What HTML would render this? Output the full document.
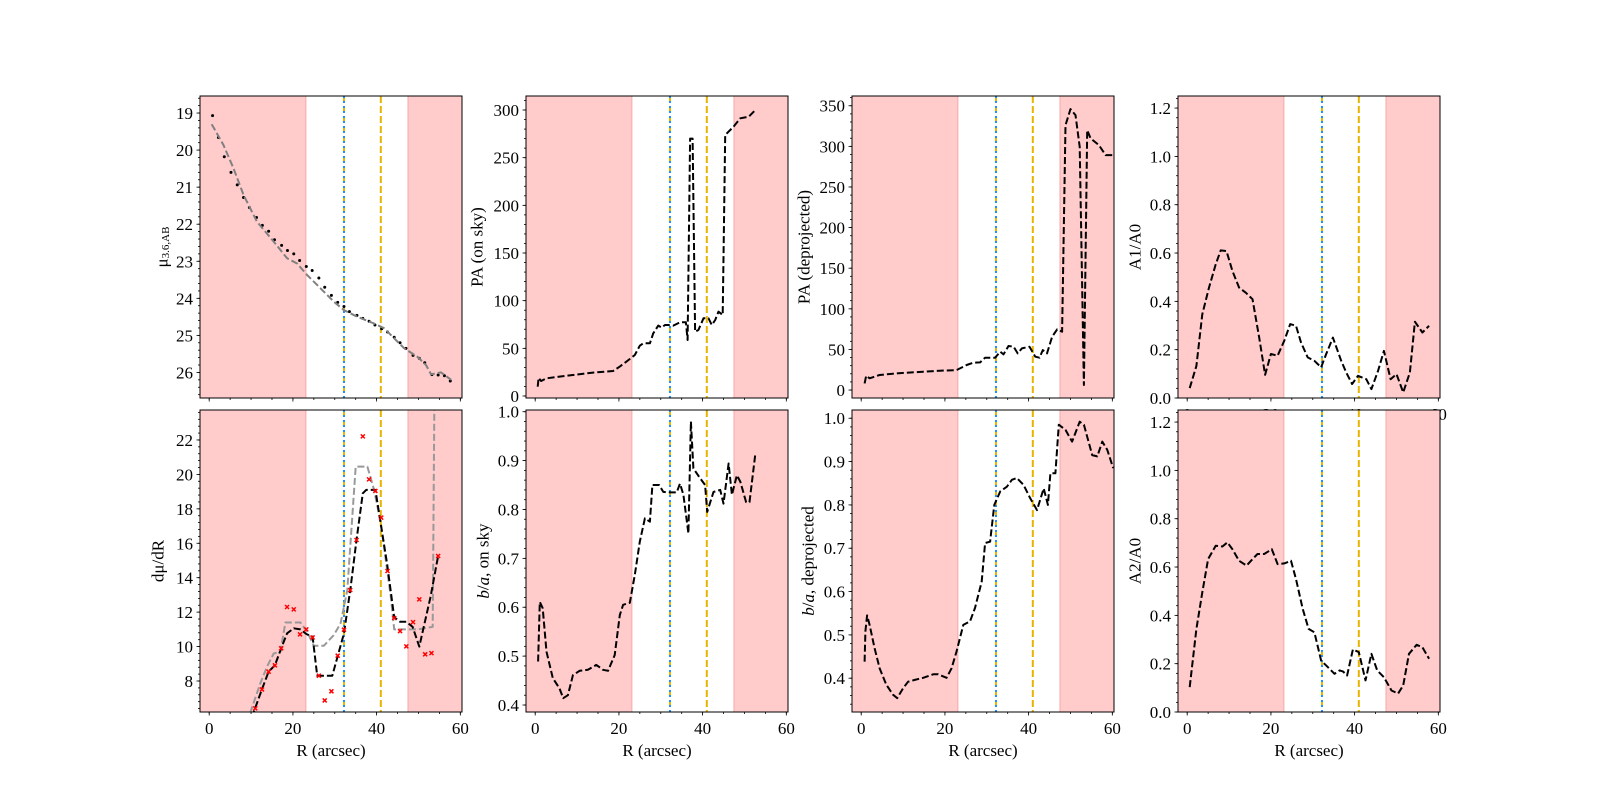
<!DOCTYPE html>
<html><head><meta charset="utf-8"><style>
html,body{margin:0;padding:0;background:#fff;}
svg{display:block;font-family:"Liberation Serif","DejaVu Serif",serif;}
</style></head><body>
<svg id="fig" width="1600" height="800" viewBox="0 0 1600 800" xmlns="http://www.w3.org/2000/svg"></svg>
<script>
// ---------- data ----------
const muDotsR=[0.8,2.2,3.6,5.2,6.7,8.2,9.6,11.3,12.7,14.2,15.6,17.3,18.7,20.2,21.6,23.2,24.6,26.2,27.6,29.2,30.7,32.2,33.5,35.3,36.7,38.2,39.6,41.2,42.6,44.2,45.6,47,48.7,50.2,51.5,53.2,54.7,56.2,57.6];
const muDotsV=[19.07,19.66,20.18,20.6,20.94,21.28,21.55,21.82,22.03,22.19,22.42,22.57,22.71,22.8,22.98,23.14,23.25,23.45,23.7,23.92,24.11,24.22,24.36,24.46,24.54,24.62,24.72,24.82,24.91,25.05,25.2,25.35,25.54,25.62,25.74,26.06,26.07,26.09,26.23];
const muModelR=[0.6,3.4,5.8,8.2,11.4,15.4,18.6,21,23.4,26.6,29.8,32.2,35.4,39.4,41.8,44.2,46.6,49.8,51.8,53,55.4,57.8];
const muModelV=[19.3,19.86,20.49,21.21,21.93,22.47,22.92,23.06,23.37,23.73,24.09,24.32,24.5,24.68,24.81,25.08,25.35,25.58,25.8,26.05,26.0,26.2];
const dmuPtsR=[11,12.6,14.2,15.7,17.2,18.6,20.2,21.7,23.2,24.7,26.2,27.6,29.2,30.7,32.2,33.7,35.2,36.7,38.2,39.7,41.1,42.6,44.2,45.6,47.1,48.7,50.2,51.6,53.1,54.7];
const dmuPtsV=[6.41,7.51,8.54,8.91,9.9,12.3,12.16,10.71,11.0,10.53,8.31,6.87,7.4,9.47,10.98,13.28,16.19,22.21,19.71,19.04,17.49,14.39,11.66,10.9,10.01,11.42,12.74,9.55,9.62,15.26];
const dmuSmR=[10.2,12.6,14.2,15.7,17.2,18.6,20.2,21.8,23.2,24.7,25.8,29.4,32.2,33.8,35.2,36.7,37.5,39.7,42.5,44.2,45.6,47.1,48.6,50.2,52.9,54.7];
const dmuSmV=[5.9,7.51,8.54,8.91,9.9,10.77,11.06,11.0,10.73,10.57,8.31,8.31,10.77,13.48,16.19,18.9,19.1,19.1,14.8,11.7,11.44,11.44,11.15,10.0,12.9,15.26];
const dmuModR=[9.8,12.2,13.8,15.4,17,18.2,21.8,23.4,25,27.4,29.8,31.4,33,35,37.8,39.4,41,43.4,44.2,49.8,53.4,53.8];
const dmuModV=[6.15,7.86,8.83,9.6,9.7,11.4,11.4,10.86,10.05,10.05,10.67,11.35,13.28,20.45,20.45,19.1,17.16,12.9,11.0,11.0,11.15,24.5];
const paSkyR=[0.6,0.8,1.4,2.6,5.8,9,13.8,18.6,20.2,22.6,23.8,25,25.8,27.4,28.2,29.4,30.2,31,31.8,33,34.6,36,36.4,37,37.6,38.2,39,40.2,41.4,42.2,43,43.8,44.8,45.4,47.4,49,51,52.6];
const paSkyV=[9.8,19,15.7,18.5,20.3,22,24.5,26.2,30.8,38.8,43,52.8,55.3,55.3,65.7,73.8,71.7,74.5,74.5,73.8,77.3,77.3,58.7,270,270,67.5,69.2,81.5,81.5,74.5,79.7,88.5,85,273.8,282.6,291.3,293,300];
const baSkyR=[0.7,1.1,1.8,2.7,4.2,5.8,6.7,7.8,9,10.6,12.6,14.6,16.2,17.4,19,20.2,21,22.6,23.8,25,26.2,27.4,28,29.6,30.6,32.2,33.8,34.6,35.4,36.6,37.2,37.8,39.4,40.6,41.1,42.6,44.2,45,46.2,47,48.2,49,50.4,51.2,52.6];
const baSkyV=[0.489,0.611,0.598,0.509,0.455,0.434,0.414,0.42,0.461,0.47,0.472,0.482,0.472,0.47,0.502,0.584,0.605,0.609,0.666,0.734,0.782,0.775,0.85,0.85,0.836,0.835,0.835,0.853,0.83,0.751,0.98,0.884,0.864,0.85,0.795,0.836,0.84,0.812,0.894,0.83,0.87,0.857,0.815,0.815,0.915];
const paDepR=[0.8,1.2,2,4.4,8.4,14.8,18.8,22.8,25.2,26.8,28.4,29.6,32,33.2,34,35.2,36.4,37.4,38.4,40.2,41.6,42.6,43.4,44.4,45.6,46.8,48,48.8,50,51.2,52.2,53.2,54,54.8,56.8,58.4,60.4];
const paDepV=[8.2,17.6,14.4,18.5,20.5,22.6,23.8,24.6,30.8,33.6,34,39.8,39.8,47.2,43.9,54.2,53.3,45.1,51.3,53.3,41,39.8,49.2,45.1,65.6,74.7,71.8,326,345.9,338.5,299.5,6.2,320,309.8,301.6,289.3,289.3];
const baDepR=[0.8,1,1.4,2,3.2,4.4,6,7.6,8.6,10,11.2,12.8,14.8,17.2,18.4,20.4,21.6,22.8,24.4,26,27.2,28.8,29.6,30.8,31.8,33.2,34.8,36,37.2,38.8,40.4,42,43.6,44.6,45.2,46.4,47.2,48.8,50.4,52.2,53.2,55.2,56.4,57.6,58.8,60.2];
const baDepV=[0.438,0.508,0.545,0.523,0.469,0.423,0.385,0.362,0.354,0.377,0.392,0.396,0.401,0.409,0.409,0.401,0.423,0.462,0.523,0.531,0.562,0.623,0.712,0.715,0.8,0.831,0.842,0.858,0.862,0.846,0.815,0.788,0.838,0.8,0.873,0.873,0.985,0.973,0.946,0.992,0.985,0.915,0.912,0.946,0.927,0.885];
const a1R=[0.6,2.2,3.6,5.2,6.8,8,9.4,10.8,12.4,14,15.6,17.2,18.6,20,21.6,23.2,24.6,26,27.2,28.8,30.4,32,33.2,34.8,36.8,38,39.4,40.8,42.8,44,45.6,47,48.6,50,51.6,53.2,54.4,56.2,57.8];
const a1V=[0.041,0.133,0.347,0.457,0.553,0.611,0.608,0.526,0.457,0.436,0.409,0.25,0.096,0.182,0.175,0.237,0.306,0.299,0.23,0.168,0.154,0.127,0.182,0.25,0.154,0.106,0.058,0.092,0.078,0.037,0.113,0.195,0.078,0.099,0.023,0.106,0.316,0.271,0.299];
const a2R=[0.6,2.2,3.6,5,6.8,8.4,9.6,10.8,12.4,14.2,15.6,16.8,18.4,20.2,21.6,23.2,24.8,26,27.6,29,30.4,32,33.6,35.2,36.4,37.2,38.2,39.6,41,42.6,44,45.4,47,48.8,50.4,51.6,53,54.8,56.2,57.8];
const a2V=[0.103,0.344,0.495,0.633,0.688,0.685,0.702,0.674,0.626,0.606,0.633,0.654,0.654,0.674,0.612,0.615,0.626,0.55,0.427,0.344,0.33,0.213,0.186,0.158,0.172,0.168,0.151,0.259,0.248,0.131,0.241,0.172,0.144,0.089,0.076,0.11,0.241,0.278,0.268,0.22];
const xTicks=[0,20,40,60];
const shadeLeft=[-5,23.1];
const shadeRight=[47.5,65];
const blueLineR=[32.2];
const orangeLineR=[32.2,41.0];

// ---------- layout ----------
const NS="http://www.w3.org/2000/svg";
const svg=document.getElementById('fig');
const colL=[200,526,852,1178], W=262, rowT=[96,410], H=302;
const XMIN=-2.2, XMAX=60.4;
function mk(tag,attrs,parent){const e=document.createElementNS(NS,tag);for(const k in attrs)e.setAttribute(k,attrs[k]);(parent||svg).appendChild(e);return e;}

const panels=[
 {id:'mu',r:0,c:0,y0:26.69,y1:18.54,maj:[19,20,21,22,23,24,25,26],fmt:v=>String(v),minStep:0.2,label:'μ<tspan font-size="11" dy="4">3.6,AB</tspan>',lx:162},
 {id:'pa-sky',r:0,c:1,y0:-2.1,y1:314.7,maj:[0,50,100,150,200,250,300],fmt:v=>String(v),minStep:10,label:'PA (on sky)',lx:477},
 {id:'pa-deproj',r:0,c:2,y0:-9.8,y1:362,maj:[0,50,100,150,200,250,300,350],fmt:v=>String(v),minStep:10,label:'PA (deprojected)',lx:804},
 {id:'a1',r:0,c:3,y0:0,y1:1.25,maj:[0,0.2,0.4,0.6,0.8,1.0,1.2],fmt:v=>v.toFixed(1),minStep:0.04,label:'A1/A0',lx:1135},
 {id:'dmu',r:1,c:0,y0:6.2,y1:23.74,maj:[8,10,12,14,16,18,20,22],fmt:v=>String(v),minStep:0.4,label:'dμ/dR',lx:158},
 {id:'ba-sky',r:1,c:1,y0:0.3857,y1:1.0035,maj:[0.4,0.5,0.6,0.7,0.8,0.9,1.0],fmt:v=>v.toFixed(1),minStep:0.02,label:'<tspan font-style="italic">b</tspan>/<tspan font-style="italic">a</tspan>, on sky',lx:483},
 {id:'ba-deproj',r:1,c:2,y0:0.322,y1:1.019,maj:[0.4,0.5,0.6,0.7,0.8,0.9,1.0],fmt:v=>v.toFixed(1),minStep:0.02,label:'<tspan font-style="italic">b</tspan>/<tspan font-style="italic">a</tspan>, deprojected',lx:808},
 {id:'a2',r:1,c:3,y0:0,y1:1.25,maj:[0,0.2,0.4,0.6,0.8,1.0,1.2],fmt:v=>v.toFixed(1),minStep:0.04,label:'A2/A0',lx:1135}
];
const series={
 'mu':[{t:'dots',x:muDotsR,y:muDotsV,name:'mu-profile-points'},{t:'line',x:muModelR,y:muModelV,col:'#808080',name:'mu-model-line'}],
 'pa-sky':[{t:'line',x:paSkyR,y:paSkyV,col:'#000',name:'pa-sky-line'}],
 'pa-deproj':[{t:'line',x:paDepR,y:paDepV,col:'#000',name:'pa-deproj-line'}],
 'a1':[{t:'line',x:a1R,y:a1V,col:'#000',name:'a1-line'}],
 'dmu':[{t:'line',x:dmuModR,y:dmuModV,col:'#999',name:'dmu-model-line'},{t:'line',x:dmuSmR,y:dmuSmV,col:'#000',name:'dmu-smooth-line'},{t:'cross',x:dmuPtsR,y:dmuPtsV,name:'dmu-points'}],
 'ba-sky':[{t:'line',x:baSkyR,y:baSkyV,col:'#000',name:'ba-sky-line'}],
 'ba-deproj':[{t:'line',x:baDepR,y:baDepV,col:'#000',name:'ba-deproj-line'}],
 'a2':[{t:'line',x:a2R,y:a2V,col:'#000',name:'a2-line'}]
};

panels.forEach((p,i)=>{
 const L=colL[p.c],T=rowT[p.r],R=L+W,B=T+H;
 const sx=v=>L+(v-XMIN)/(XMAX-XMIN)*W;
 const sy=v=>B-(v-p.y0)/(p.y1-p.y0)*H;
 const g=mk('g',{});
 
 
 const cp=mk('clipPath',{id:'cp'+i},g);mk('rect',{x:L,y:T,width:W,height:H},cp);
 const bg=mk('rect',{x:L,y:T,width:W,height:H,fill:'#fff'},g);
 
 
 const inner=mk('g',{'clip-path':'url(#cp'+i+')'},g);
 [shadeLeft,shadeRight].forEach((s,k)=>{
  const r=mk('rect',{x:sx(s[0]),y:T,width:sx(s[1])-sx(s[0]),height:H,fill:'#ffcbcb',stroke:'#f6a9a9','stroke-width':1},inner);
  
  
 });
 orangeLineR.forEach(v=>{
  const l=mk('line',{x1:sx(v),x2:sx(v),y1:T,y2:B,stroke:'#e8b400','stroke-width':2,'stroke-dasharray':'7,3'},inner);
  
  
 });
 blueLineR.forEach(v=>{
  const l=mk('line',{x1:sx(v),x2:sx(v),y1:T,y2:B,stroke:'#1e90ff','stroke-width':2,'stroke-dasharray':'2,3'},inner);
  
  
 });
 series[p.id].forEach(s=>{
  if(s.t==='line'){
   const d=s.x.map((v,j)=>(j?'L':'M')+sx(v).toFixed(1)+','+sy(s.y[j]).toFixed(1)).join('');
   const pl=mk('path',{d:d,fill:'none',stroke:s.col,'stroke-width':2,'stroke-dasharray':'7,3','stroke-linejoin':'round'},inner);
   
   
  } else if(s.t==='dots'){
   const gg=mk('g',{},inner);
   
   
   s.x.forEach((v,j)=>{const c=mk('circle',{cx:sx(v),cy:sy(s.y[j]),r:1.5,fill:'#000'},gg);
    
    });
  } else {
   const gg=mk('g',{},inner);
   
   
   s.x.forEach((v,j)=>{const x=sx(v),y=sy(s.y[j]);
    const c=mk('path',{d:`M${x-2},${y-2}L${x+2},${y+2}M${x-2},${y+2}L${x+2},${y-2}`,stroke:'#ff0000','stroke-width':1.5},gg);
    
    });
  }
 });
 // frame
 const fr=mk('rect',{x:L,y:T,width:W,height:H,fill:'none',stroke:'#000','stroke-width':1},g);
 
 
 // y ticks
 const lo=Math.min(p.y0,p.y1),hi=Math.max(p.y0,p.y1);
 for(let v=Math.ceil(lo/p.minStep)*p.minStep;v<=hi+1e-9;v+=p.minStep){mk('line',{x1:L-2,x2:L,y1:sy(v),y2:sy(v),stroke:'#000','stroke-width':0.8},g);}
 p.maj.forEach(v=>{
  mk('line',{x1:L-3.5,x2:L,y1:sy(v),y2:sy(v),stroke:'#000','stroke-width':0.8},g);
  const t=mk('text',{x:L-7,y:sy(v)+6,'text-anchor':'end','font-size':17,fill:'#000'},g);
  t.textContent=p.fmt(v);
  
  
 });
 // x ticks
 for(let v=0;v<=XMAX;v+=5){mk('line',{x1:sx(v),x2:sx(v),y1:B,y2:B+2,stroke:'#000','stroke-width':0.8},g);}
 xTicks.forEach(v=>{
  mk('line',{x1:sx(v),x2:sx(v),y1:B,y2:B+3.5,stroke:'#000','stroke-width':0.8},g);
  if(p.r===1||p.c===3){
   const t=mk('text',{x:sx(v),y:B+22,'text-anchor':'middle','font-size':17,fill:'#000'},g);
   t.textContent=String(v);
   
   
  }
 });
 if(p.r===1){
  const xl=mk('text',{x:L+W/2,y:B+44,'text-anchor':'middle','font-size':17,fill:'#000'},g);
  xl.textContent='R (arcsec)';
  
  
 }
 const yl=mk('text',{x:p.lx,y:T+H/2,'text-anchor':'middle','font-size':17,fill:'#000',transform:`rotate(-90 ${p.lx} ${T+H/2})`,'dominant-baseline':'central'},g);
 yl.innerHTML=p.label;
 
 
});
</script>
</body></html>
